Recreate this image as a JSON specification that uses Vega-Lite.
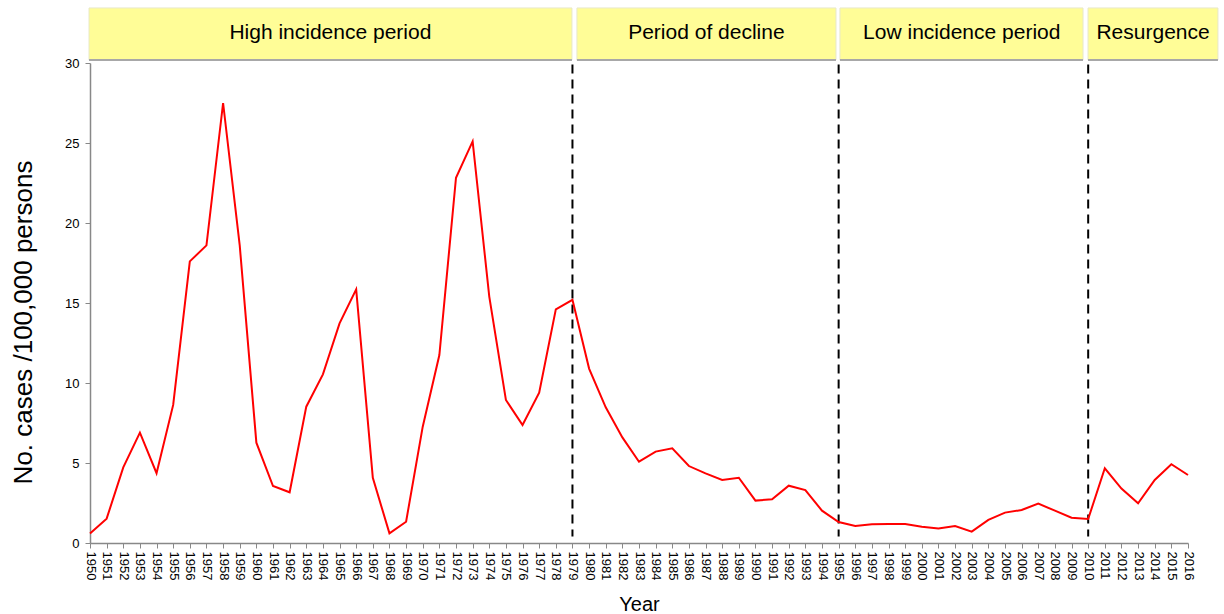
{
  "$schema": "https://vega.github.io/schema/vega-lite/v6.json",
  "width": 1098,
  "height": 480,
  "autosize": "none",
  "padding": {"left": 90, "top": 63, "right": 36, "bottom": 71},
  "background": "white",
  "config": {"view": {"stroke": null}, "font": "Liberation Sans"},
  "datasets": {
    "incidence": [
      {"year": 1950, "value": 0.6}, {"year": 1951, "value": 1.52}, {"year": 1952, "value": 4.73},
      {"year": 1953, "value": 6.9}, {"year": 1954, "value": 4.36}, {"year": 1955, "value": 8.63},
      {"year": 1956, "value": 17.6}, {"year": 1957, "value": 18.6}, {"year": 1958, "value": 27.5},
      {"year": 1959, "value": 18.6}, {"year": 1960, "value": 6.27}, {"year": 1961, "value": 3.56},
      {"year": 1962, "value": 3.17}, {"year": 1963, "value": 8.52}, {"year": 1964, "value": 10.54},
      {"year": 1965, "value": 13.73}, {"year": 1966, "value": 15.85}, {"year": 1967, "value": 4.08},
      {"year": 1968, "value": 0.6}, {"year": 1969, "value": 1.33}, {"year": 1970, "value": 7.27},
      {"year": 1971, "value": 11.75}, {"year": 1972, "value": 22.83}, {"year": 1973, "value": 25.1},
      {"year": 1974, "value": 15.4}, {"year": 1975, "value": 8.94}, {"year": 1976, "value": 7.37},
      {"year": 1977, "value": 9.4}, {"year": 1978, "value": 14.6}, {"year": 1979, "value": 15.2},
      {"year": 1980, "value": 10.9}, {"year": 1981, "value": 8.48}, {"year": 1982, "value": 6.6},
      {"year": 1983, "value": 5.08}, {"year": 1984, "value": 5.71}, {"year": 1985, "value": 5.92},
      {"year": 1986, "value": 4.81}, {"year": 1987, "value": 4.35}, {"year": 1988, "value": 3.94},
      {"year": 1989, "value": 4.08}, {"year": 1990, "value": 2.65}, {"year": 1991, "value": 2.73},
      {"year": 1992, "value": 3.58}, {"year": 1993, "value": 3.31}, {"year": 1994, "value": 2.02},
      {"year": 1995, "value": 1.31}, {"year": 1996, "value": 1.06}, {"year": 1997, "value": 1.17},
      {"year": 1998, "value": 1.19}, {"year": 1999, "value": 1.19}, {"year": 2000, "value": 1.02},
      {"year": 2001, "value": 0.9}, {"year": 2002, "value": 1.06}, {"year": 2003, "value": 0.71},
      {"year": 2004, "value": 1.44}, {"year": 2005, "value": 1.9}, {"year": 2006, "value": 2.06},
      {"year": 2007, "value": 2.46}, {"year": 2008, "value": 2.02}, {"year": 2009, "value": 1.58},
      {"year": 2010, "value": 1.5}, {"year": 2011, "value": 4.67}, {"year": 2012, "value": 3.4},
      {"year": 2013, "value": 2.48}, {"year": 2014, "value": 3.94}, {"year": 2015, "value": 4.92},
      {"year": 2016, "value": 4.25}
    ],
    "periods": [
      {"label": "High incidence period", "year": 1949.94, "year_end": 1978.97, "value": 33.44, "value_end": 30.19},
      {"label": "Period of decline", "year": 1979.27, "year_end": 1994.84, "value": 33.44, "value_end": 30.19},
      {"label": "Low incidence period", "year": 1995.08, "year_end": 2009.69, "value": 33.44, "value_end": 30.19},
      {"label": "Resurgence", "year": 2009.99, "year_end": 2017.8, "value": 33.44, "value_end": 30.19}
    ],
    "labels": [
      {"label": "High incidence period", "year": 1964.45, "value": 31.9},
      {"label": "Period of decline", "year": 1987.05, "value": 31.9},
      {"label": "Low incidence period", "year": 2002.4, "value": 31.9},
      {"label": "Resurgence", "year": 2013.9, "value": 31.9}
    ],
    "dividers": [
      {"year": 1979, "value": 29.9, "value_end": 0.4},
      {"year": 1995, "value": 29.9, "value_end": 0.4},
      {"year": 2010, "value": 29.9, "value_end": 0.4}
    ]
  },
  "encoding": {
    "x": {
      "field": "year", "type": "quantitative", "scale": {"domain": [1950, 2016], "nice": false, "zero": false},
      "axis": {
        "title": "Year", "titleFontSize": 20, "titleFontWeight": "normal", "titleColor": "black", "titlePadding": 15,
        "values": [1950,1951,1952,1953,1954,1955,1956,1957,1958,1959,1960,1961,1962,1963,1964,1965,1966,1967,1968,1969,1970,1971,1972,1973,1974,1975,1976,1977,1978,1979,1980,1981,1982,1983,1984,1985,1986,1987,1988,1989,1990,1991,1992,1993,1994,1995,1996,1997,1998,1999,2000,2001,2002,2003,2004,2005,2006,2007,2008,2009,2010,2011,2012,2013,2014,2015,2016],
        "format": "d", "labelAngle": 90, "labelAlign": "left", "labelBaseline": "middle",
        "labelFontSize": 13, "labelColor": "black", "labelPadding": 3, "labelOverlap": false, "labelSeparation": 0,
        "labelFlush": false, "tickSize": 5, "tickColor": "#888", "domainColor": "#888", "domainWidth": 1.5, "grid": false
      }
    },
    "y": {
      "field": "value", "type": "quantitative", "scale": {"domain": [0, 30], "nice": false},
      "axis": {
        "title": "No. cases /100,000 persons", "titleFontSize": 26, "titleFontWeight": "normal", "titleColor": "black", "titlePadding": 28,
        "titleY": 259,
        "values": [0, 5, 10, 15, 20, 25, 30], "labelFontSize": 13, "labelColor": "black", "labelPadding": 6,
        "tickSize": 5, "tickColor": "#888", "domainColor": "#888", "domainWidth": 1.5, "grid": false
      }
    }
  },
  "layer": [
    {
      "data": {"name": "periods"},
      "mark": {"type": "rect", "fill": "#FFFD97", "stroke": "#E8E8C8", "strokeWidth": 1},
      "encoding": {"x2": {"field": "year_end"}, "y2": {"field": "value_end"}}
    },
    {
      "data": {"name": "periods"},
      "mark": {"type": "rule", "stroke": "#A8A8A8", "strokeWidth": 2},
      "encoding": {"x2": {"field": "year_end"}, "y": {"field": "value_end", "type": "quantitative"}}
    },
    {
      "data": {"name": "labels"},
      "mark": {"type": "text", "fontSize": 21, "color": "black", "align": "center", "baseline": "middle"},
      "encoding": {"text": {"field": "label"}}
    },
    {
      "data": {"name": "dividers"},
      "mark": {"type": "rule", "stroke": "black", "strokeWidth": 2, "strokeDash": [9, 6]},
      "encoding": {"y2": {"field": "value_end"}}
    },
    {
      "data": {"name": "incidence"},
      "mark": {"type": "line", "stroke": "#FF0000", "strokeWidth": 2},
      "encoding": {}
    }
  ]
}
